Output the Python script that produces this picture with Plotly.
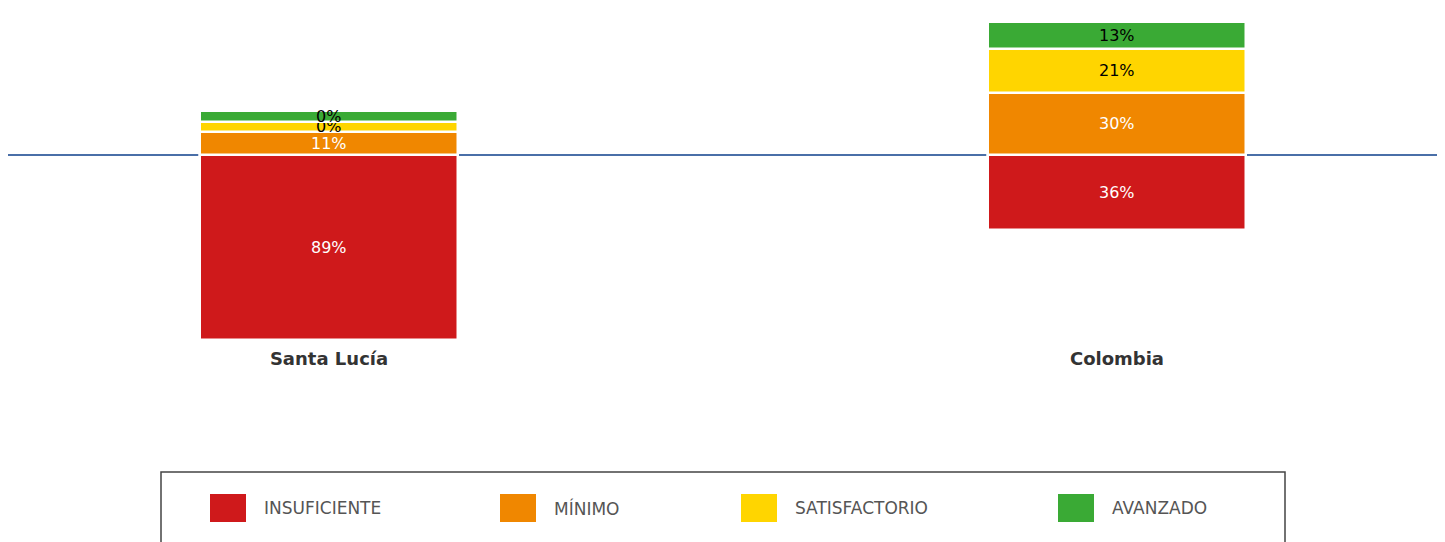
import plotly.graph_objects as go

# ---------------- data ----------------
categories = ["Santa Lucía", "Colombia"]
series_names = ["INSUFICIENTE", "MÍNIMO", "SATISFACTORIO", "AVANZADO"]
insuficiente = [89, 36]
minimo = [11, 30]
satisfactorio = [0, 21]
avanzado = [0, 13]

# ---------------- style ----------------
colors = ["#cf191b", "#f08700", "#ffd500", "#3aaa35"]
text_colors = ["white", "white", "black", "black"]
MIN_VISIBLE = 5            # minimum drawn height for 0% segments (style only)
W, H = 1437, 534           # page adds an 8px body margin
L, R, T, B = 0, 5, 0, 196  # plot area margins in px
PX_PER_UNIT = 2.08
ZERO_PX = 147

plot_w = W - L - R
plot_h = H - T - B
ymax = (ZERO_PX - T) / PX_PER_UNIT
ymin = -(H - B - ZERO_PX) / PX_PER_UNIT

fig = go.Figure()
series = [insuficiente, minimo, satisfactorio, avanzado]
for i, (name, vals) in enumerate(zip(series_names, series)):
    sign = -1 if i == 0 else 1
    heights = [sign * max(v, MIN_VISIBLE) for v in vals]
    fig.add_trace(go.Bar(
        name=name,
        x=[0, 1],
        y=heights,
        width=0.327,
        marker=dict(color=colors[i], line=dict(color="white", width=2.5)),
        text=[f"{v}%" for v in vals],
        textposition="inside",
        insidetextanchor="middle",
        textfont=dict(family="DejaVu Sans", size=16, color=text_colors[i]),
        hoverinfo="skip",
        showlegend=False,
    ))

# ---------------- manual legend ----------------
def px_x(px):
    return (px - L) / plot_w
def px_y(py):
    return (T + plot_h - py) / plot_h

shapes = [dict(type="rect", xref="paper", yref="paper",
               x0=px_x(153), x1=px_x(1277), y0=px_y(560), y1=px_y(464),
               line=dict(color="#444444", width=1.5), fillcolor="rgba(0,0,0,0)")]
annotations = []
swatch_x = [202, 492, 733, 1050]
for i, name in enumerate(series_names):
    sx = swatch_x[i]
    shapes.append(dict(type="rect", xref="paper", yref="paper",
                       x0=px_x(sx), x1=px_x(sx + 36), y0=px_y(514), y1=px_y(486),
                       line=dict(width=0), fillcolor=colors[i]))
    annotations.append(dict(xref="paper", yref="paper", x=px_x(sx + 52), y=px_y(500),
                            text=name, showarrow=False, xanchor="left", yanchor="middle",
                            font=dict(family="DejaVu Sans", size=17, color="#555555")))

fig.update_layout(
    width=W, height=H,
    margin=dict(l=L, r=R, t=T, b=B, pad=0),
    barmode="relative",
    bargap=0,
    plot_bgcolor="white", paper_bgcolor="white",
    uniformtext=dict(minsize=15, mode="show"),
    shapes=shapes,
    annotations=annotations,
    xaxis=dict(
        range=[-0.4074, 1.41],
        tickvals=[0, 1],
        ticktext=[f"<b>{c}</b>" for c in categories],
        tickfont=dict(family="DejaVu Sans", size=18, color="#333333"),
        showgrid=False, zeroline=False, showline=False, ticks="",
        fixedrange=True,
    ),
    yaxis=dict(
        range=[ymin, ymax],
        showgrid=False, showticklabels=False, ticks="",
        zeroline=True, zerolinecolor="#4a6fa8", zerolinewidth=2,
        showline=False, fixedrange=True,
    ),
)

fig.write_html("out.html")
